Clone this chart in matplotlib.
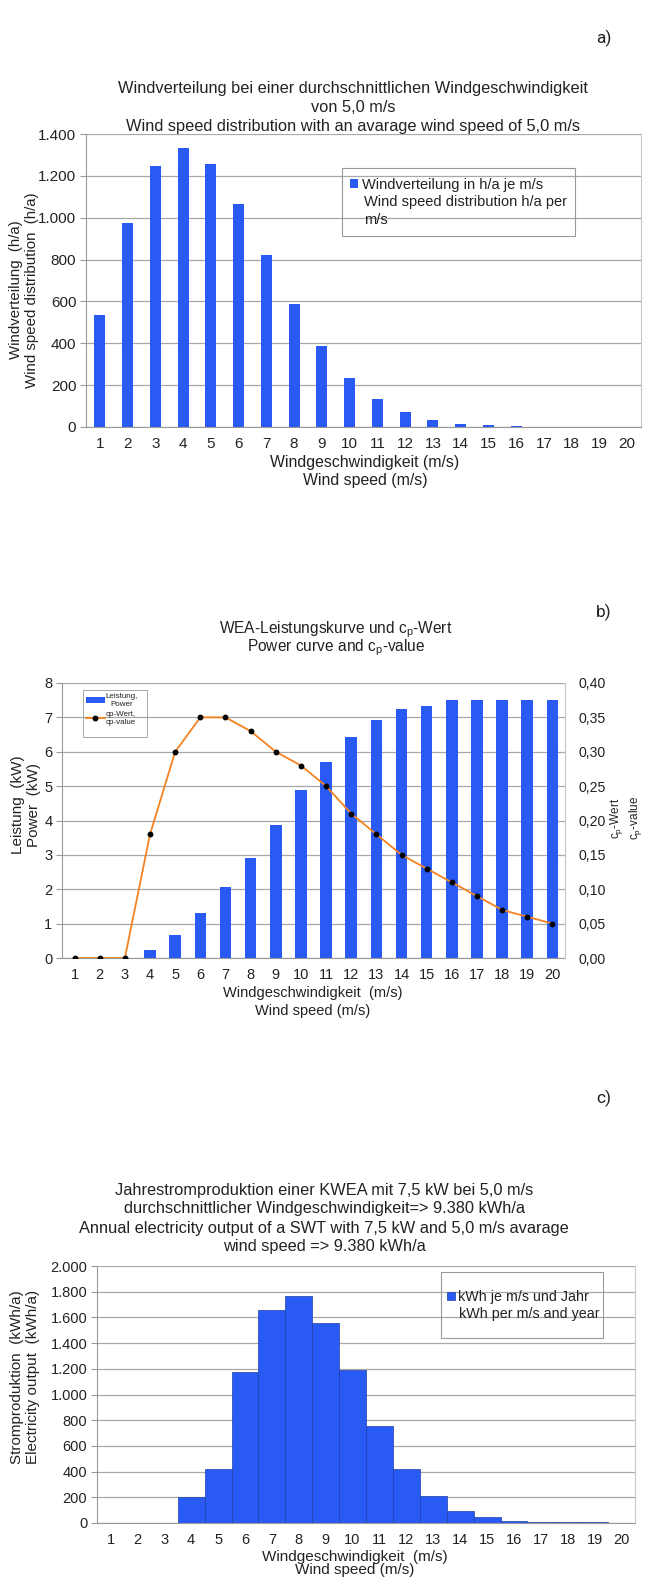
import matplotlib
matplotlib.use("Agg")
import matplotlib.pyplot as plt
from matplotlib.ticker import FuncFormatter
from matplotlib.patches import Rectangle

plt.rcParams['font.family'] = ['Liberation Sans', 'DejaVu Sans']
plt.rcParams['mathtext.default'] = 'regular'
plt.rcParams['text.color'] = '#222222'
plt.rcParams['xtick.color'] = '#222222'
plt.rcParams['ytick.color'] = '#222222'

# ---- data ----
speeds = list(range(1, 21))
speed_labels = [str(s) for s in speeds]

# a) Windverteilung h/a je m/s
hours = [537, 973, 1247, 1333, 1257, 1067, 822, 589, 388, 233,
         135, 71, 32, 16, 8, 3, 2, 1, 0.5, 0]

# b) Leistungskurve (kW) und cp-Wert
power = [0, 0, 0, 0.22, 0.67, 1.3, 2.07, 2.91, 3.86, 4.9,
         5.7, 6.42, 6.92, 7.23, 7.33, 7.5, 7.5, 7.5, 7.5, 7.5]
cp = [0, 0, 0, 0.18, 0.30, 0.35, 0.35, 0.33, 0.30, 0.28,
      0.25, 0.21, 0.18, 0.15, 0.13, 0.11, 0.09, 0.07, 0.06, 0.05]

# c) Jahresstromproduktion kWh je m/s
energy = [0, 0, 0, 200, 420, 1174, 1657, 1766, 1553, 1192,
          756, 420, 212, 96, 44, 18, 8, 6, 5, 0]

BLUE = '#2A5AF4'
ORANGE = '#F58220'
GRID = '#A8A8A8'

W, H = 646, 1577
fig = plt.figure(figsize=(W / 100, H / 100), dpi=100)


def fx(x):
    return x / W


def fy(y):
    return 1 - y / H


def box(l, t, r, b):
    return [l / W, 1 - b / H, (r - l) / W, (b - t) / H]


def dot_thousands(v, pos):
    return '{:,.0f}'.format(v).replace(',', '.')


def comma2(v, pos):
    return '{:.2f}'.format(v).replace('.', ',')


def style_axes(ax, size):
    ax.set_axisbelow(True)
    ax.yaxis.grid(True, color=GRID, lw=0.9)
    for s in ['left', 'bottom']:
        ax.spines[s].set_color('#999999')
    ax.spines['top'].set_visible(False)
    ax.spines['right'].set_color('#C8C8C8')
    ax.set_xlim(0.5, 20.5)
    ax.set_xticks(speeds)
    ax.set_xticklabels(speed_labels)
    ax.tick_params(axis='x', length=0, pad=7, labelsize=size)
    ax.tick_params(axis='y', length=4, color='#999999', pad=3, labelsize=size)


def frame(x0, y0, x1, y1, lw=0.8):
    fig.patches.append(Rectangle((fx(x0), fy(y1)), (x1 - x0) / W, (y1 - y0) / H,
                                 transform=fig.transFigure, fill=False,
                                 edgecolor='#999999', lw=lw, zorder=5))


# ================= a) =================
fig.text(fx(604), fy(38), 'a)', fontsize=12.5, family='Roboto', ha='center', va='center')
for y, line in zip([88, 107, 126], ['Windverteilung bei einer durchschnittlichen Windgeschwindigkeit',
                                    'von 5,0 m/s',
                                    'Wind speed distribution with an avarage wind speed of 5,0 m/s']):
    fig.text(fx(353), fy(y), line, ha='center', va='center', fontsize=11.8)

ax1 = fig.add_axes(box(86, 134, 641, 427))
ax1.bar(speeds, hours, width=0.4, color=BLUE, label='Windverteilung in h/a je m/s')
ax1.set_ylim(0, 1400)
ax1.set_yticks(range(0, 1401, 200))
ax1.yaxis.set_major_formatter(FuncFormatter(dot_thousands))
style_axes(ax1, 11)
fig.text(fx(24), fy(290), 'Windverteilung  (h/a)\nWind speed distribution  (h/a)', rotation=90,
         ha='center', va='center', fontsize=10.8)
fig.text(fx(365), fy(463), 'Windgeschwindigkeit (m/s)', ha='center', va='center', fontsize=11.4)
fig.text(fx(365), fy(481), 'Wind speed (m/s)', ha='center', va='center', fontsize=11.4)
ax1.legend(loc='center left', bbox_to_anchor=(fx(350), fy(185)), bbox_transform=fig.transFigure,
           frameon=False, fontsize=10.5, handlelength=0.55, handleheight=0.55,
           handletextpad=0.25, borderpad=0, borderaxespad=0)
for y, line in zip([202, 220], ['Wind speed distribution h/a per', 'm/s']):
    fig.text(fx(364), fy(y), line, ha='left', va='center', fontsize=10.5)
frame(342, 168, 575, 236)

# ================= b) =================
fig.text(fx(604), fy(612), 'b)', fontsize=12.5, family='Roboto', ha='center', va='center')
fig.text(fx(336), fy(630), 'WEA-Leistungskurve und c$_{p}$-Wert', ha='center', va='center', fontsize=11.2)
fig.text(fx(336), fy(648), 'Power curve and c$_{p}$-value', ha='center', va='center', fontsize=11.2)

ax2 = fig.add_axes(box(62, 683, 565, 958))
bars2 = ax2.bar(speeds, power, width=0.46, color=BLUE)
ax2.set_ylim(0, 8)
ax2.set_yticks(range(0, 9))
style_axes(ax2, 10.5)
ax2b = ax2.twinx()
line2, = ax2b.plot(speeds, cp, color=ORANGE, lw=1.3, marker='o', markersize=3.2,
                   markerfacecolor='black', markeredgecolor='black')
ax2b.set_ylim(0, 0.40)
ax2b.set_yticks([i * 0.05 for i in range(9)])
ax2b.yaxis.set_major_formatter(FuncFormatter(comma2))
ax2b.tick_params(axis='y', length=0, pad=10, labelsize=10.2)
for s in ['top', 'left', 'bottom']:
    ax2b.spines[s].set_visible(False)
ax2b.spines['right'].set_color('#C8C8C8')
fig.text(fx(26), fy(805), 'Leistung  (kW)\nPower  (kW)', rotation=90, ha='center', va='center', fontsize=11)
fig.text(fx(626), fy(818), 'c$_{p}$-Wert\nc$_{p}$-value', rotation=90, ha='center', va='center', fontsize=8.5)
fig.text(fx(313), fy(993), 'Windgeschwindigkeit  (m/s)', ha='center', va='center', fontsize=10.5)
fig.text(fx(313), fy(1011), 'Wind speed (m/s)', ha='center', va='center', fontsize=10.5)
leg2 = ax2b.legend([bars2, line2], ['Leistung,\nPower', 'cp-Wert,\ncp-value'], loc='upper left',
                   bbox_to_anchor=(fx(86), fy(693)), bbox_transform=fig.transFigure,
                   frameon=False, fontsize=5.8, handlelength=2.3, handletextpad=0.1,
                   borderpad=0, borderaxespad=0, labelspacing=0.35)
for t in leg2.get_texts():
    t.set_multialignment('center')
frame(83, 690, 147, 737, lw=0.6)

# ================= c) =================
fig.text(fx(604), fy(1098), 'c)', fontsize=12.5, family='Roboto', ha='center', va='center')
for y, line in zip([1190, 1209, 1228, 1247], ['Jahrestromproduktion einer KWEA mit 7,5 kW bei 5,0 m/s',
                                              'durchschnittlicher Windgeschwindigkeit=> 9.380 kWh/a',
                                              'Annual electricity output of a SWT with 7,5 kW and 5,0 m/s avarage',
                                              'wind speed => 9.380 kWh/a']):
    fig.text(fx(324), fy(y), line, ha='center', va='center', fontsize=11.8)

ax3 = fig.add_axes(box(97, 1266, 635, 1523))
ax3.bar(speeds, energy, width=1.0, color=BLUE, edgecolor='#1E3FA8', linewidth=0.5,
        label='kWh je m/s und Jahr')
ax3.set_ylim(0, 2000)
ax3.set_yticks(range(0, 2001, 200))
ax3.yaxis.set_major_formatter(FuncFormatter(dot_thousands))
style_axes(ax3, 10.5)
fig.text(fx(25), fy(1377), 'Stromproduktion  (kWh/a)\nElectricity output  (kWh/a)', rotation=90,
         ha='center', va='center', fontsize=11)
fig.text(fx(355), fy(1557), 'Windgeschwindigkeit  (m/s)', ha='center', va='center', fontsize=11)
fig.text(fx(355), fy(1570), 'Wind speed (m/s)', ha='center', va='center', fontsize=11)
ax3.legend(loc='center left', bbox_to_anchor=(fx(447), fy(1297)), bbox_transform=fig.transFigure,
           frameon=False, fontsize=10.3, handlelength=0.55, handleheight=0.55,
           handletextpad=0.2, borderpad=0, borderaxespad=0)
fig.text(fx(459), fy(1314), 'kWh per m/s and year', ha='left', va='center', fontsize=10.3)
frame(441, 1272, 603, 1338)

fig.savefig('out.png', dpi=100)
